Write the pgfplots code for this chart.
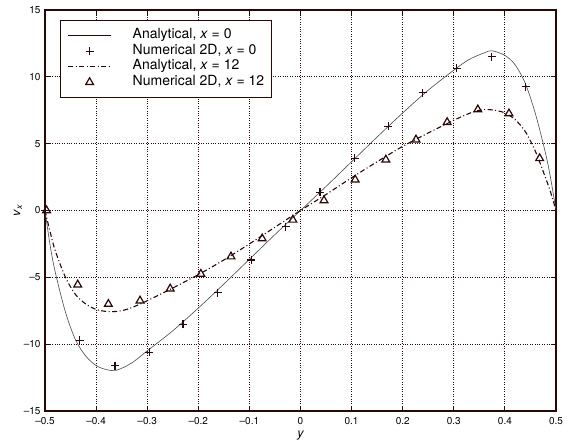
\documentclass[border=0pt]{standalone}
\usepackage{pgfplots}
\pgfplotsset{compat=1.18}
\usepackage{fontspec}
\setmainfont{TeX Gyre Heros}
\definecolor{ink}{RGB}{40,8,8}
\pgfplotsset{
  lineleg/.style={legend image code/.code={\draw[##1] (0pt,0pt)--(43pt,0pt); \path (64pt,0pt);}},
  lineleginked/.style={legend image code/.code={\draw[##1, ink] (0pt,0pt)--(43pt,0pt); \path (64pt,0pt);}},
  markleg/.style={legend image code/.code={\draw[##1] plot coordinates {(21.5pt,0pt)}; \path (0pt,0pt) (64pt,0pt);}},
}
\begin{document}
\begin{tikzpicture}
\useasboundingbox (-45pt,-33pt) rectangle (526pt,411pt);
\begin{axis}[
  at={(0pt,0pt)}, anchor=south west,
  scale only axis, width=511pt, height=401pt,
  xmin=-0.5, xmax=0.5, ymin=-15, ymax=15,
  xtick={-0.5,-0.4,-0.3,-0.2,-0.1,0,0.1,0.2,0.3,0.4,0.5},
  ytick={-15,-10,-5,0,5,10,15},
  xticklabels={\textendash0.5,\textendash0.4,\textendash0.3,\textendash0.2,\textendash0.1,0,0.1,0.2,0.3,0.4,0.5},
  yticklabels={\textendash15,\textendash10,\textendash5,0,5,10,15},
  grid=major, grid style={dotted, ink, line width=0.9pt},
  tick align=inside, major tick length=5pt,
  tick style={ink, line width=0.9pt},
  axis line style={ink, line width=1.1pt},
  tick label style={font=\fontsize{10}{11}\selectfont},
  xticklabel style={yshift=-2.5pt},
  yticklabel style={xshift=-1pt},
  xlabel={\fontsize{12.5}{12}\selectfont\itshape y},
  ylabel={\fontsize{12.5}{12}\selectfont\itshape v\textsubscript{x}},
  xlabel style={at={([yshift=-25pt]axis description cs:0.5,0)}, anchor=center},
  ylabel style={at={([xshift=-27pt]axis description cs:0,0.5)}, anchor=center},
  legend style={at={(0.0294,0.975)}, anchor=north west, draw=ink, line width=1pt,
    font=\fontsize{14}{15}\selectfont, inner xsep=7pt, inner ysep=7.5pt, row sep=0pt,
    nodes={inner sep=0pt, text height=10.5pt, text depth=5pt}},
  legend cell align=left,
]
% Analytical x=0
\addplot[gray!65!black, line width=0.65pt, smooth, lineleginked] coordinates {
(-0.5,0) (-0.49,-2.6) (-0.48,-4.6) (-0.46,-7.6) (-0.44,-9.7) (-0.42,-10.9)
(-0.40,-11.6) (-0.38,-11.9) (-0.36,-11.95) (-0.33,-11.4) (-0.30,-10.5)
(-0.25,-9.0) (-0.20,-7.3) (-0.15,-5.5) (-0.10,-3.65) (-0.05,-1.8) (0,0)
(0.05,1.8) (0.10,3.65) (0.15,5.5) (0.20,7.3) (0.25,9.0) (0.30,10.5)
(0.33,11.3) (0.36,11.8) (0.375,11.95) (0.40,11.6) (0.42,10.9) (0.44,9.5)
(0.46,7.2) (0.48,4.2) (0.49,2.3) (0.5,0)
};
\addlegendentry{Analytical, \textit{x} = 0}
\addplot[ink, only marks, mark=+, mark size=4pt, line width=1.2pt, markleg] coordinates {
(-0.5,0) (-0.432,-9.7) (-0.363,-11.6) (-0.296,-10.6) (-0.23,-8.5) (-0.162,-6.15)
(-0.096,-3.7) (-0.029,-1.2) (0.038,1.35) (0.106,3.9) (0.172,6.3) (0.239,8.8)
(0.306,10.65) (0.374,11.5) (0.441,9.25)
};
\addlegendentry{Numerical 2D, \textit{x} = 0}
% Analytical x=12
\addplot[ink, line width=1.1pt, dash pattern=on 5pt off 2.5pt on 1pt off 2.5pt, smooth, lineleg] coordinates {
(-0.5,0) (-0.49,-1.6) (-0.48,-3.0) (-0.46,-5.0) (-0.44,-6.3) (-0.42,-7.0)
(-0.40,-7.4) (-0.38,-7.55) (-0.36,-7.55) (-0.34,-7.4) (-0.32,-7.1) (-0.30,-6.75)
(-0.25,-5.8) (-0.20,-4.8) (-0.15,-3.7) (-0.10,-2.5) (-0.05,-1.25) (0,0)
(0.05,1.2) (0.10,2.45) (0.15,3.65) (0.20,4.8) (0.25,5.8) (0.30,6.75)
(0.32,7.1) (0.34,7.4) (0.36,7.55) (0.38,7.5) (0.40,7.3) (0.42,6.8)
(0.44,5.9) (0.46,4.4) (0.48,2.4) (0.49,1.3) (0.5,0)
};
\addlegendentry{Analytical, \textit{x} = 12}
\addplot[ink, only marks, mark=triangle, mark size=4.5pt, line width=1.2pt, markleg] coordinates {
(-0.497,0) (-0.436,-5.55) (-0.376,-7.0) (-0.314,-6.75) (-0.255,-5.85) (-0.195,-4.75)
(-0.136,-3.45) (-0.075,-2.1) (-0.015,-0.7) (0.046,0.75) (0.107,2.3) (0.167,3.8)
(0.226,5.3) (0.287,6.6) (0.347,7.55) (0.408,7.25) (0.468,3.9)
};
\addlegendentry{Numerical 2D, \textit{x} = 12}
\end{axis}
\end{tikzpicture}
\end{document}
